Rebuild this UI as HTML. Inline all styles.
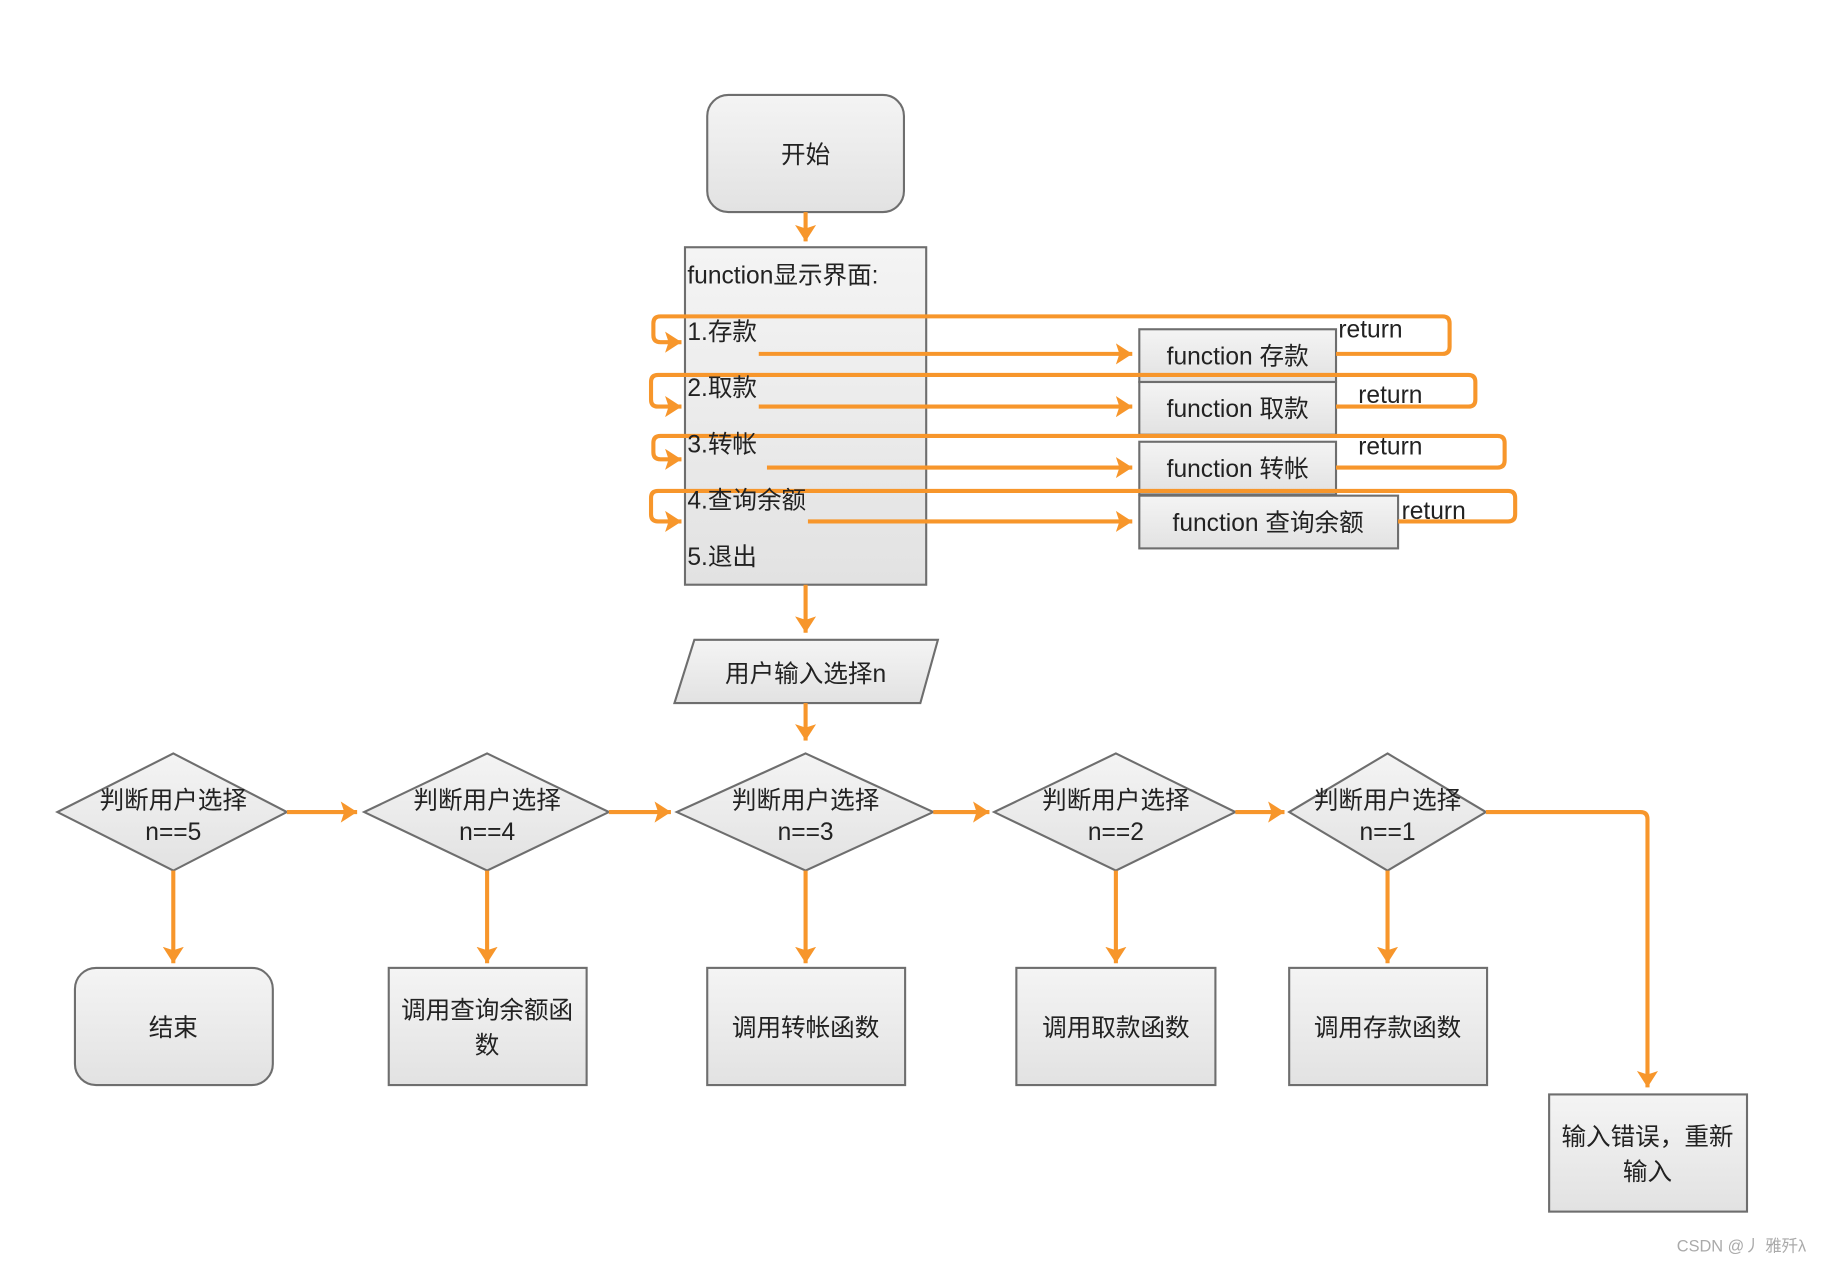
<!DOCTYPE html>
<html><head><meta charset="utf-8"><style>
html,body{margin:0;padding:0;background:#fff;}
svg{display:block;}
text{font-family:"Liberation Sans","Noto Sans CJK SC",sans-serif;fill:#222;}
</style></head><body>
<svg width="1836" height="1262" viewBox="0 0 1568 1077" preserveAspectRatio="none" xmlns="http://www.w3.org/2000/svg">
<defs>
<linearGradient id="g" x1="0" y1="0" x2="0" y2="1"><stop offset="0" stop-color="#f4f4f4"/><stop offset="1" stop-color="#e2e2e2"/></linearGradient>
<marker id="a" markerWidth="18" markerHeight="18" refX="8" refY="8" orient="auto" markerUnits="userSpaceOnUse"><path d="M0,0 L14,8 L0,16 L3,8 Z" fill="#f7962b" transform="translate(-4,0)"/></marker>
<marker id="b" markerWidth="18" markerHeight="20" refX="14" refY="9" orient="auto" markerUnits="userSpaceOnUse"><path d="M0,0 L14,9 L0,18 L3,9 Z" fill="#f7962b"/></marker>
</defs>
<g fill="url(#g)" stroke="#6e6e6e" stroke-width="1.8">
<rect x="604" y="81" width="168" height="100" rx="18"/>
<rect x="585" y="211" width="206" height="288"/>
<rect x="973" y="281" width="168" height="45"/>
<rect x="973" y="326" width="168" height="45"/>
<rect x="973" y="377" width="168" height="45"/>
<rect x="973" y="423" width="221" height="45"/>
<polygon points="593,546 801,546 786,600 576,600"/>
<polygon points="148,643 245,693 148,743 49,693"/>
<polygon points="416,643 520,693 416,743 311,693"/>
<polygon points="688,643 797,693 688,743 578,693"/>
<polygon points="953,643 1055,693 953,743 849,693"/>
<polygon points="1185,643 1269,693 1185,743 1101,693"/>
<rect x="64" y="826" width="169" height="100" rx="18"/>
<rect x="332" y="826" width="169" height="100"/>
<rect x="604" y="826" width="169" height="100"/>
<rect x="868" y="826" width="170" height="100"/>
<rect x="1101" y="826" width="169" height="100"/>
<rect x="1323" y="934" width="169" height="100"/>
</g>
<g fill="none" stroke="#f7962b" stroke-width="3.5">
<path d="M688,181 V206" marker-end="url(#b)"/>
<path d="M688,499 V540" marker-end="url(#b)"/>
<path d="M688,600 V632" marker-end="url(#b)"/>
<path d="M648,302 H967" marker-end="url(#b)"/>
<path d="M648,347 H967" marker-end="url(#b)"/>
<path d="M655,399 H967" marker-end="url(#b)"/>
<path d="M690,445 H967" marker-end="url(#b)"/>
<path d="M1141,302 H1232 Q1238,302 1238,296 V276 Q1238,270 1232,270 H564 Q558,270 558,276 V286 Q558,292 564,292 H582" marker-end="url(#b)"/>
<path d="M1141,347 H1254 Q1260,347 1260,341 V326 Q1260,320 1254,320 H562 Q556,320 556,326 V341 Q556,347 562,347 H582" marker-end="url(#b)"/>
<path d="M1141,399 H1279 Q1285,399 1285,393 V378 Q1285,372 1279,372 H564 Q558,372 558,378 V386 Q558,392 564,392 H582" marker-end="url(#b)"/>
<path d="M1194,445 H1288 Q1294,445 1294,439 V425 Q1294,419 1288,419 H562 Q556,419 556,425 V439 Q556,445 562,445 H582" marker-end="url(#b)"/>
<path d="M245,693 H305" marker-end="url(#b)"/>
<path d="M520,693 H573" marker-end="url(#b)"/>
<path d="M797,693 H845" marker-end="url(#b)"/>
<path d="M1055,693 H1097" marker-end="url(#b)"/>
<path d="M1269,693 H1401 Q1407,693 1407,699 V928" marker-end="url(#b)"/>
<path d="M148,743 V822" marker-end="url(#b)"/>
<path d="M416,743 V822" marker-end="url(#b)"/>
<path d="M688,743 V822" marker-end="url(#b)"/>
<path d="M953,743 V822" marker-end="url(#b)"/>
<path d="M1185,743 V822" marker-end="url(#b)"/>
</g>
<g font-size="21">
<text x="688" y="139" text-anchor="middle">开始</text>
<text x="587" y="242">function显示界面:</text>
<text x="587" y="290">1.存款</text>
<text x="587" y="338">2.取款</text>
<text x="587" y="386">3.转帐</text>
<text x="587" y="434">4.查询余额</text>
<text x="587" y="482">5.退出</text>
<text x="1057" y="311" text-anchor="middle">function 存款</text>
<text x="1057" y="356" text-anchor="middle">function 取款</text>
<text x="1057" y="407" text-anchor="middle">function 转帐</text>
<text x="1083" y="453" text-anchor="middle">function 查询余额</text>
<text x="1143" y="288">return</text>
<text x="1160" y="344">return</text>
<text x="1160" y="388">return</text>
<text x="1197" y="443">return</text>
<text x="688" y="582" text-anchor="middle">用户输入选择n</text>
<text x="148" y="690" text-anchor="middle">判断用户选择</text><text x="148" y="717" text-anchor="middle">n==5</text>
<text x="416" y="690" text-anchor="middle">判断用户选择</text><text x="416" y="717" text-anchor="middle">n==4</text>
<text x="688" y="690" text-anchor="middle">判断用户选择</text><text x="688" y="717" text-anchor="middle">n==3</text>
<text x="953" y="690" text-anchor="middle">判断用户选择</text><text x="953" y="717" text-anchor="middle">n==2</text>
<text x="1185" y="690" text-anchor="middle">判断用户选择</text><text x="1185" y="717" text-anchor="middle">n==1</text>
<text x="148" y="884" text-anchor="middle">结束</text>
<text x="416" y="869" text-anchor="middle">调用查询余额函</text><text x="416" y="899" text-anchor="middle">数</text>
<text x="688" y="884" text-anchor="middle">调用转帐函数</text>
<text x="953" y="884" text-anchor="middle">调用取款函数</text>
<text x="1185" y="884" text-anchor="middle">调用存款函数</text>
<text x="1407" y="977" text-anchor="middle">输入错误，重新</text><text x="1407" y="1007" text-anchor="middle">输入</text>
</g>
<text x="1432" y="1068" font-size="14" style="fill:#aaa">CSDN @丿 雅歼λ</text>
</svg>
</body></html>
